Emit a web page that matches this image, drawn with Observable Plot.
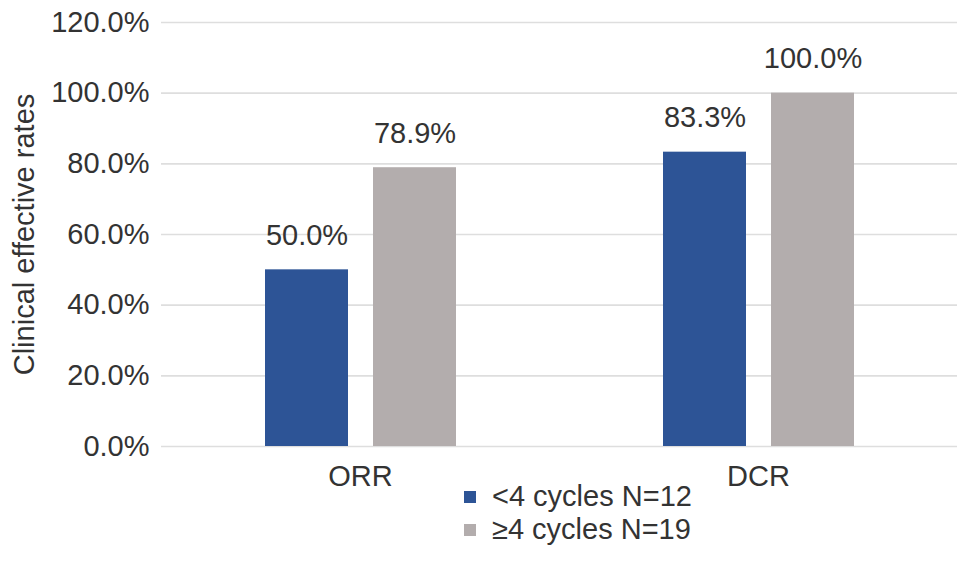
<!DOCTYPE html>
<html>
<head>
<meta charset="utf-8">
<script src="https://cdn.jsdelivr.net/npm/d3@7"></script>
<script src="https://cdn.jsdelivr.net/npm/@observablehq/plot@0.6"></script>
<style>
  html, body { margin: 0; padding: 0; background: #fff; }
  #wrap { position: relative; width: 969px; height: 562px; font-family: "Liberation Sans", Arial, Helvetica, sans-serif; color: #333; }
  #legend { position: absolute; left: 464px; top: 480px; font-size: 29px; line-height: 33px; }
  .item { display: flex; align-items: center; white-space: nowrap; }
  .sw { width: 12px; height: 12px; margin-right: 16px; }
</style>
</head>
<body>
<div id="wrap">
  <div id="chart"></div>
  <div id="legend"></div>
</div>
<script>
const categories = ["ORR", "DCR"];
const seriesNames = ["<4 cycles N=12", "≥4 cycles N=19"];
const seriesKeys = ["lt4", "ge4"];
const lt4Values = [50.0, 83.3];
const ge4Values = [78.9, 100.0];
const yTicks = [0, 20, 40, 60, 80, 100, 120];
const colors = ["#2d5496", "#b3adad"];

const data = [];
categories.forEach((c, i) => {
  data.push({cat: c, series: seriesKeys[0], value: lt4Values[i]});
  data.push({cat: c, series: seriesKeys[1], value: ge4Values[i]});
});

const fontSize = 29;
const chart = Plot.plot({
  width: 969,
  height: 500,
  marginLeft: 160,
  marginRight: 12,
  marginTop: 22,
  marginBottom: 54,
  style: {fontFamily: '"Liberation Sans", Arial, Helvetica, sans-serif', fontSize: fontSize + "px", color: "#333", background: "#fff"},
  fx: {domain: categories, padding: 0, label: null},
  x: {domain: seriesKeys, paddingInner: 0.235, paddingOuter: 0.954, axis: null},
  y: {domain: [0, 120], label: null},
  color: {domain: seriesKeys, range: colors},
  marks: [
    Plot.gridY(yTicks, {stroke: "#dedede", strokeOpacity: 1, strokeWidth: 1.6}),
    Plot.barY(data, {fx: "cat", x: "series", y: "value", fill: "series"}),
    Plot.text(data, {fx: "cat", x: "series", y: "value", text: d => d.value.toFixed(1) + "%", lineAnchor: "bottom", dy: -25, fontSize: fontSize, fill: "#333"}),
    Plot.axisY(yTicks, {tickSize: 0, tickPadding: 12, tickFormat: d => d.toFixed(1) + "%", fontSize: fontSize, fill: "#333", label: "Clinical effective rates", labelAnchor: "center", labelOffset: 148, labelArrow: "none"}),
    Plot.axisFx({anchor: "bottom", tickSize: 0, tickPadding: 19, fontSize: fontSize, fill: "#333", label: null})
  ]
});
document.getElementById("chart").appendChild(chart);

const legend = document.getElementById("legend");
seriesNames.forEach((name, i) => {
  const item = document.createElement("div");
  item.className = "item";
  const sw = document.createElement("span");
  sw.className = "sw";
  sw.style.background = colors[i];
  const t = document.createElement("span");
  t.textContent = name;
  item.appendChild(sw);
  item.appendChild(t);
  legend.appendChild(item);
});
</script>
</body>
</html>
